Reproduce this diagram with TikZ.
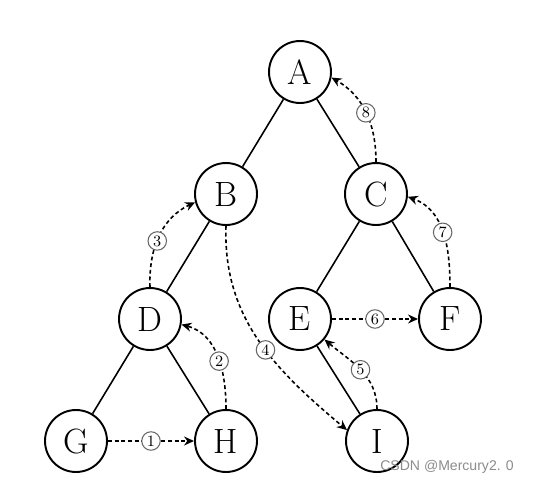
\documentclass[tikz,border=0pt]{standalone}
\usepackage{fontspec}
\usetikzlibrary{arrows.meta}
\newfontfamily\wmfont{Liberation Sans}
\tikzset{
  vert/.style = {circle, draw, line width=1.1pt, minimum size=1.24cm, inner sep=0pt,
                 font=\fontsize{20}{24}\selectfont, fill=white},
  tree/.style = {line width=0.9pt},
  trav/.style = {-{Stealth[length=2mm, width=1.8mm]}, line width=0.9pt,
                 dash pattern=on 2.2pt off 1.6pt},
  num/.style  = {circle, solid, draw=black!60, line width=0.6pt, fill=white, inner sep=0.5pt,
                 minimum size=0.37cm, font=\small},
}
\begin{document}
\begin{tikzpicture}[x=0.02cm, y=-0.02cm]
    \useasboundingbox (0,0) rectangle (535,487);
    % tree vertices
    \node[vert] (A) at (300,72)  {A};
    \node[vert] (B) at (226,194) {B};
    \node[vert] (C) at (376,194) {C};
    \node[vert] (D) at (150,319) {D};
    \node[vert] (E) at (300,319) {E};
    \node[vert] (F) at (450,319) {F};
    \node[vert] (G) at (76,441)  {G};
    \node[vert] (H) at (226,441) {H};
    \node[vert] (I) at (377,441) {I};
    % tree edges
    \draw[tree] (A) -- (B);
    \draw[tree] (A) -- (C);
    \draw[tree] (B) -- (D);
    \draw[tree] (C) -- (E);
    \draw[tree] (C) -- (F);
    \draw[tree] (D) -- (G);
    \draw[tree] (D) -- (H);
    \draw[tree] (E) -- (I);
    % traversal order
    \draw[trav] (G.east) -- node[num]{1} (H.west);
    \draw[trav] (H.north) to[out=90, in=-15] node[num, pos=0.45]{2} (D.-10);
    \draw[trav] (D.north) to[out=92, in=205] node[num, pos=0.45]{3} (B.195);
    \draw[trav] (B.south) to[out=-92, in=140] node[num, pos=0.55]{4} (I.160);
    \draw[trav] (E.east) -- node[num]{6} (F.west);
    \draw[trav] (I.north) to[out=90, in=-40] node[num, pos=0.5]{5} (E.-40);
    \draw[trav] (F.north) to[out=90, in=-20] node[num, pos=0.5]{7} (C.-5);
    \draw[trav] (C.north) to[out=90, in=-30] node[num, pos=0.5]{8} (A.-10);
    % watermark
    \node[anchor=east, text=black!45, font=\wmfont\fontsize{8}{9}\selectfont] (wm) at (520,467) {CSDN @Mercury2. 0};
\end{tikzpicture}
\end{document}
